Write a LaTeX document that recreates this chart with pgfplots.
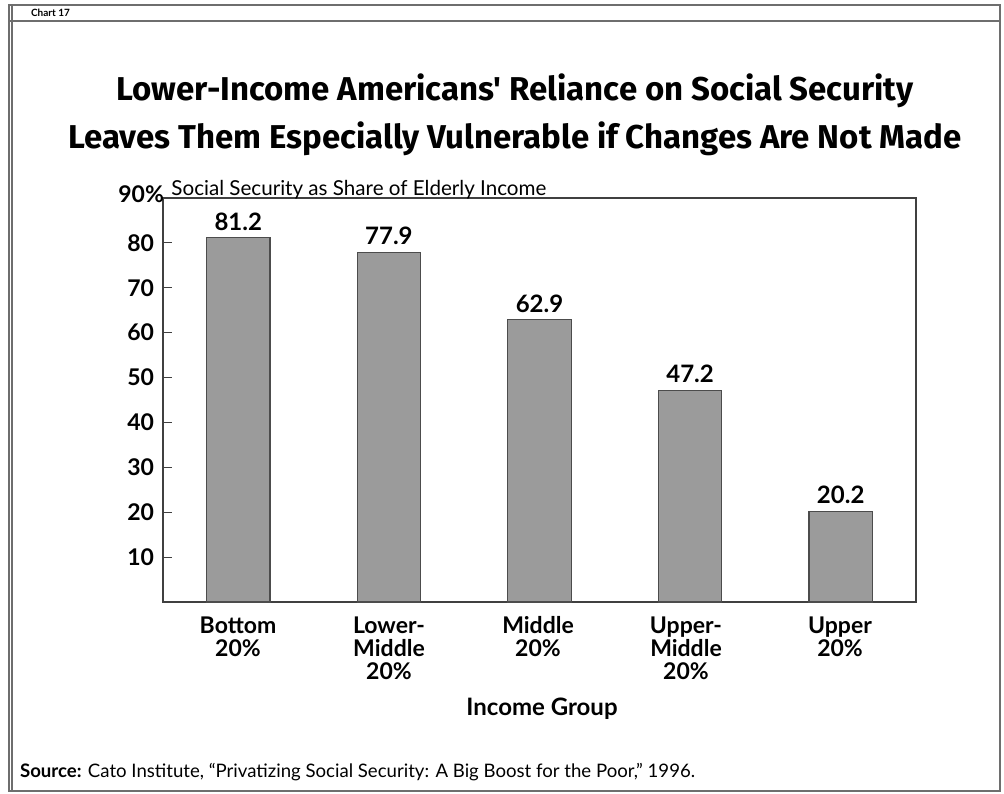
\documentclass[border=0pt]{standalone}
\usepackage{fontspec}
\setmainfont{Lato}
\newfontfamily\titlefont{Fira Sans}
\usepackage{pgfplots}
\pgfplotsset{compat=1.18}
\definecolor{bargray}{RGB}{155,155,155}
\definecolor{framegray}{RGB}{110,110,110}
\begin{document}
\begin{tikzpicture}[x=0.5pt,y=0.5pt]
\path[use as bounding box] (0,0) rectangle (1004,793);
% frame
\draw[framegray,line width=1pt] (9,2) rectangle (1000,788);
\draw[framegray,line width=0.6pt] (12,2) -- (12,788);
\draw[framegray,line width=0.8pt] (9,772) -- (1000,772);
\node[anchor=west,font=\bfseries\fontsize{5}{6}\selectfont] at (24,780) {Chart 17};
% title
\node[align=center,font=\titlefont\bfseries\fontsize{16.5}{24}\selectfont] at (515,678) {Lower-Income Americans' Reliance on Social Security\\Leaves Them Especially Vulnerable if Changes Are Not Made};
\begin{axis}[
  at={(81.5pt,95.5pt)}, anchor=south west,
  scale only axis, width=376.5pt, height=202pt,
  xmin=-0.5, xmax=4.5, ymin=0, ymax=90,
  axis line style={draw=black!75, line width=0.6pt},
  xtick=\empty,
  ytick={10,20,...,80},
  ytick pos=left, tick align=inside, major tick length=4.5pt,
  tick style={black!75, line width=0.6pt},
  yticklabel style={font=\bfseries\fontsize{11.5}{13}\selectfont, xshift=-1pt},
  /pgf/number format/assume math mode=true,
  extra y ticks={90}, extra y tick labels={90\%},
  extra y tick style={major tick length=0pt, yticklabel style={xshift=5pt, yshift=2pt}},
  clip=false,
  nodes near coords,
  nodes near coords style={font=\bfseries\fontsize{12}{14}\selectfont, /pgf/number format/.cd, fixed, fixed zerofill, precision=1, assume math mode=true},
]
\addplot[ybar, bar width=0.42, fill=bargray, draw=black!70, line width=0.6pt] coordinates {(0,81.2) (1,77.9) (2,62.9) (3,47.2) (4,20.2)};
\node[anchor=south west, inner sep=1pt, font=\fontsize{10.3}{12}\selectfont] at (axis cs:-0.46,89.2) {Social Security as Share of Elderly Income};
\end{axis}
% x labels
\begin{scope}[every node/.style={anchor=north, align=center, font=\bfseries\fontsize{11.5}{11.6}\selectfont}]
\node at (238,184) {\vphantom{lM}Bottom\\20\%};
\node at (389,184) {\vphantom{lM}Lower-\\Middle\\20\%};
\node at (538,184) {\vphantom{lM}Middle\\20\%};
\node at (686,184) {\vphantom{lM}Upper-\\Middle\\20\%};
\node at (840,184) {\vphantom{lM}Upper\\20\%};
\end{scope}
\node[font=\bfseries\fontsize{12}{14}\selectfont] at (542,84) {Income Group};
\node[anchor=base west, font=\fontsize{9.3}{11}\selectfont] at (13,16) {\textbf{Source:} Cato Institute, ``Privatizing Social Security: A Big Boost for the Poor,'' 1996.};
\end{tikzpicture}
\end{document}
